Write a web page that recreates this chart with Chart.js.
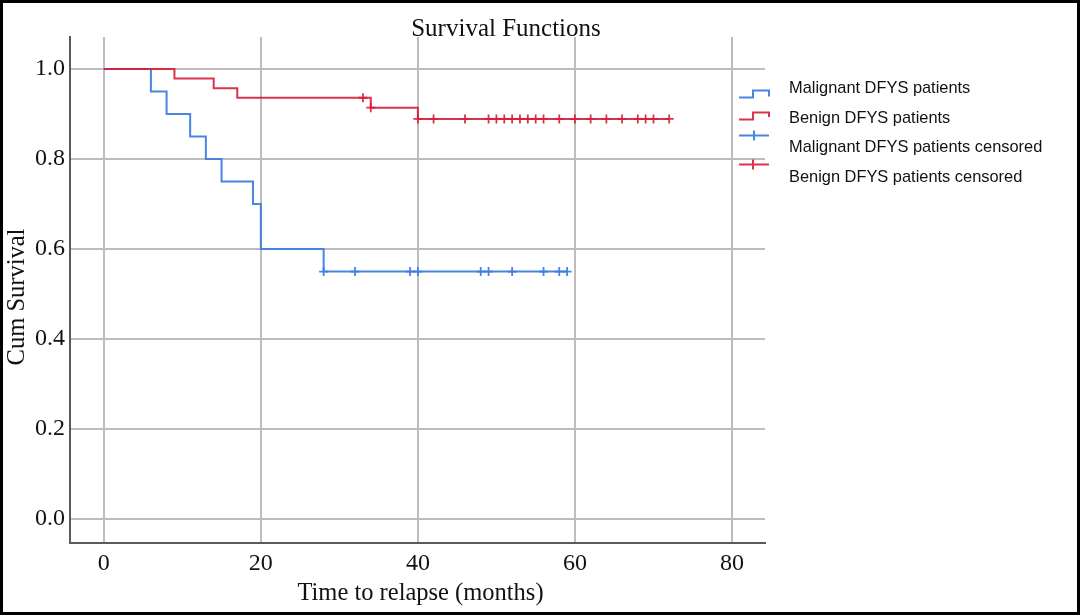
<!DOCTYPE html>
<html><head><meta charset="utf-8">
<script src="https://cdn.jsdelivr.net/npm/chart.js@4.4.1/dist/chart.umd.min.js"></script>
<style>html,body{margin:0;padding:0;background:#fff;}#wrap{width:1080px;height:615px;position:relative;}</style>
</head><body><div id="wrap"><canvas id="c" width="1080" height="615"></canvas></div>
<script>
const xTicks = [0, 20, 40, 60, 80];
const yTicks = [0, 0.2, 0.4, 0.6, 0.8, 1.0];

const malignantTimes = [0, 6, 8, 11, 13, 15, 19, 20, 28, 59];
const malignantSurv  = [1, 0.95, 0.90, 0.85, 0.80, 0.75, 0.70, 0.60, 0.55, 0.55];
const malignantCensorTimes = [28, 32, 39, 40, 48, 49, 52, 56, 58, 59];
const malignantCensorSurv  = [0.55, 0.55, 0.55, 0.55, 0.55, 0.55, 0.55, 0.55, 0.55, 0.55];

const benignTimes = [0, 9, 14, 17, 34, 40, 72];
const benignSurv  = [1, 0.979, 0.957, 0.936, 0.914, 0.889, 0.889];
const benignCensorTimes = [33, 34, 40, 42, 46, 49, 50, 51, 52, 53, 54, 55, 56, 58, 60, 62, 64, 66, 68, 69, 70, 72];
const benignCensorSurv  = [0.936, 0.914, 0.889, 0.889, 0.889, 0.889, 0.889, 0.889, 0.889, 0.889, 0.889, 0.889, 0.889, 0.889, 0.889, 0.889, 0.889, 0.889, 0.889, 0.889, 0.889, 0.889];

const seriesNames = ['Malignant DFYS patients', 'Benign DFYS patients', 'Malignant DFYS patients censored', 'Benign DFYS patients censored'];

const BLUE = 'rgba(62,128,222,0.95)';
const RED = 'rgba(214,30,55,0.9)';
const SERIF = '"Liberation Serif", "Times New Roman", serif';
const SANS = '"Liberation Sans", Arial, sans-serif';

const pts = (xs, ys) => xs.map((x, i) => ({x: x, y: ys[i]}));

const overlay = {
  id: 'overlay',
  afterDraw(chart) {
    const ctx = chart.ctx;
    const a = chart.chartArea;
    ctx.save();
    ctx.fillStyle = '#111';
    ctx.textAlign = 'center';
    ctx.textBaseline = 'middle';
    ctx.font = '25px ' + SERIF;
    ctx.fillText('Survival Functions', 506, 29);
    ctx.font = '24.5px ' + SERIF;
    ctx.fillText('Time to relapse (months)', (a.left + a.right) / 2 + 3, 594);
    ctx.save();
    ctx.translate(18, 297);
    ctx.rotate(-Math.PI / 2);
    ctx.fillText('Cum Survival', 0, 0);
    ctx.restore();
    ctx.lineWidth = 2;
    ctx.lineJoin = 'miter';
    const stepIcon = (color, yl, yh, ye) => {
      ctx.strokeStyle = color;
      ctx.beginPath();
      ctx.moveTo(739, yl); ctx.lineTo(753, yl); ctx.lineTo(753, yh); ctx.lineTo(769, yh); ctx.lineTo(769, ye);
      ctx.stroke();
    };
    const crossIcon = (color, cx, cy) => {
      ctx.strokeStyle = color;
      ctx.beginPath();
      ctx.moveTo(739, cy); ctx.lineTo(769, cy);
      ctx.moveTo(cx, cy - 5); ctx.lineTo(cx, cy + 5);
      ctx.stroke();
    };
    stepIcon(BLUE, 97.5, 90.5, 96.5);
    stepIcon(RED, 119.5, 112.5, 117);
    crossIcon(BLUE, 754, 135.5);
    crossIcon(RED, 753, 164.5);
    ctx.fillStyle = '#111';
    ctx.textAlign = 'left';
    ctx.font = '16.4px ' + SANS;
    const ys = [88.5, 118, 147.5, 177];
    seriesNames.forEach((n, i) => ctx.fillText(n, 789, ys[i]));
    ctx.strokeStyle = '#000';
    ctx.lineWidth = 3;
    ctx.strokeRect(1.5, 1.5, 1077, 612);
    ctx.restore();
  }
};

new Chart(document.getElementById('c'), {
  type: 'line',
  data: {
    datasets: [
      {label: seriesNames[2], data: pts(malignantCensorTimes, malignantCensorSurv), showLine: false, pointStyle: 'cross', pointRadius: 4.5, borderColor: BLUE, backgroundColor: BLUE, pointBorderWidth: 1.8, order: 0},
      {label: seriesNames[3], data: pts(benignCensorTimes, benignCensorSurv), showLine: false, pointStyle: 'cross', pointRadius: 4.5, borderColor: RED, backgroundColor: RED, pointBorderWidth: 1.8, order: 0},
      {label: seriesNames[1], data: pts(benignTimes, benignSurv), stepped: true, borderColor: RED, borderWidth: 2, pointRadius: 0, fill: false, order: 1},
      {label: seriesNames[0], data: pts(malignantTimes, malignantSurv), stepped: true, borderColor: BLUE, borderWidth: 2, pointRadius: 0, fill: false, order: 2}
    ]
  },
  options: {
    responsive: false,
    animation: false,
    events: [],
    layout: {padding: {top: 37, right: 315, left: 0, bottom: 0}},
    plugins: {legend: {display: false}, title: {display: false}, tooltip: {enabled: false}},
    scales: {
      x: {
        type: 'linear', min: -4.3, max: 84.2,
        afterBuildTicks: s => { s.ticks = xTicks.map(v => ({value: v})); },
        afterFit: s => { s.height = 72; },
        grid: {color: '#bdbdbd', lineWidth: 2, drawTicks: false},
        border: {color: '#5a5a5a', width: 2},
        ticks: {font: {family: SERIF, size: 24}, color: '#111', padding: 6, maxRotation: 0, callback: v => String(v)}
      },
      y: {
        type: 'linear', min: -0.053, max: 1.071,
        afterBuildTicks: s => { s.ticks = yTicks.map(v => ({value: v})); },
        afterFit: s => { s.width = 70; },
        grid: {color: '#bdbdbd', lineWidth: 2, drawTicks: false},
        border: {color: '#5a5a5a', width: 2},
        ticks: {font: {family: SERIF, size: 24}, color: '#111', padding: 5, callback: v => Number(v).toFixed(1)}
      }
    }
  },
  plugins: [overlay]
});
</script></body></html>
